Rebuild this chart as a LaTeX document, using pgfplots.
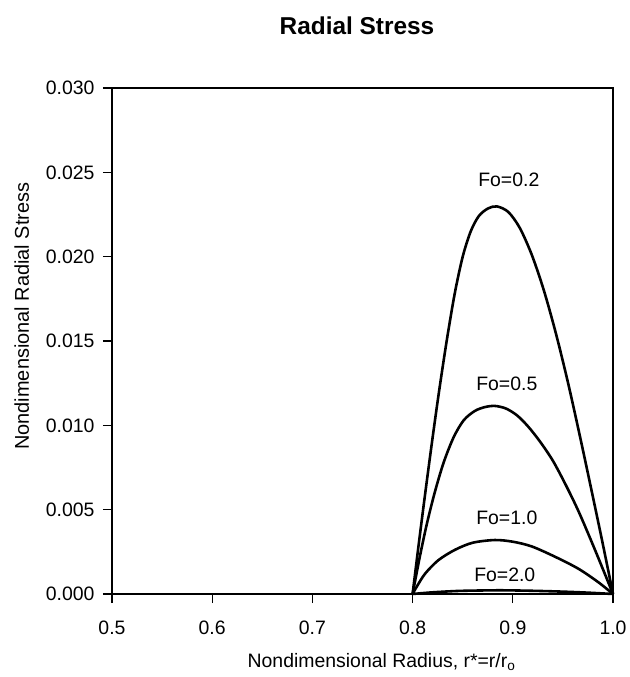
\documentclass[border=0pt]{standalone}
\usepackage{pgfplots}
\pgfplotsset{compat=1.18}
\usepackage{fontspec}
\setmainfont{Liberation Sans}
\begin{document}
\begin{tikzpicture}[x=1bp,y=1bp]
\useasboundingbox (-112,-83) rectangle (518,594);
\begin{axis}[
  at={(0,0)}, anchor=south west,
  scale only axis, width=501bp, height=506bp,
  xmin=0.5, xmax=1.0, ymin=0, ymax=0.03,
  scaled y ticks=false, scaled x ticks=false,
  xtick={0.5,0.6,0.7,0.8,0.9,1.0},
  xticklabels={0.5,0.6,0.7,0.8,0.9,1.0},
  ytick={0,0.005,0.01,0.015,0.02,0.025,0.03},
  yticklabels={0.000,0.005,0.010,0.015,0.020,0.025,0.030},
  tick align=outside, tick pos=left,
  major tick length=9bp,
  tick style={black, line width=1.3pt},
  axis line style={line width=1.6pt},
  /pgf/number format/assume math mode=true,
  ticklabel style={font=\fontsize{19.5}{22}\selectfont},
  yticklabel style={xshift=-5bp},
  xticklabel style={yshift=-14bp},
  xlabel={Nondimensional Radius, r*=r/r\textsubscript{o}},
  ylabel={Nondimensional Radial Stress},
  xlabel style={font=\fontsize{19.5}{22}\selectfont, at={(axis description cs:0.538,-0.134)}, anchor=center},
  ylabel style={font=\fontsize{20}{22}\selectfont, at={(axis description cs:-0.18,0.549)}, anchor=center},
  clip=false,
]
\addplot[black, line width=2.6pt, smooth, tension=0.5] coordinates {
(0.800,0) (0.806,0.00290) (0.812,0.00570) (0.819,0.00885) (0.826,0.01185)
(0.834,0.01500) (0.842,0.01780) (0.850,0.02000) (0.858,0.02150) (0.866,0.02240)
(0.875,0.02285) (0.884,0.02298) (0.8955,0.02265) (0.907,0.02170) (0.919,0.02010)
(0.931,0.01800) (0.943,0.01545) (0.955,0.01255) (0.967,0.00935) (0.978,0.00630)
(0.989,0.00320) (1.000,0)};
\addplot[black, line width=2.6pt, smooth, tension=0.5] coordinates {
(0.800,0) (0.807,0.00215) (0.814,0.00410) (0.822,0.00600) (0.831,0.00780)
(0.841,0.00930) (0.851,0.01030) (0.862,0.01085) (0.872,0.01108) (0.882,0.01115)
(0.893,0.01100) (0.904,0.01060) (0.915,0.00995) (0.927,0.00905) (0.940,0.00790)
(0.953,0.00645) (0.966,0.00485) (0.982,0.00262) (1.000,0)};
\addplot[black, line width=2.6pt, smooth, tension=0.5] coordinates {
(0.800,0) (0.8041,0.00043) (0.8124,0.00120) (0.8256,0.00200) (0.8423,0.00262)
(0.8600,0.00304) (0.8820,0.00320) (0.9000,0.00310) (0.9189,0.00282)
(0.9421,0.00221) (0.9654,0.00150) (0.9853,0.00070) (1.000,0)};
\addplot[black, line width=2.6pt, smooth, tension=0.5] coordinates {
(0.800,0) (0.820,0.00010) (0.845,0.00018) (0.870,0.00021) (0.890,0.00022)
(0.920,0.00019) (0.950,0.00014) (0.975,0.00008) (1.000,0)};
\node[font=\fontsize{19.5}{22}\selectfont] at (axis cs:0.896,0.02455) {Fo=0.2};
\node[font=\fontsize{19.5}{22}\selectfont] at (axis cs:0.894,0.01249) {Fo=0.5};
\node[font=\fontsize{19.5}{22}\selectfont] at (axis cs:0.894,0.00449) {Fo=1.0};
\node[font=\fontsize{19.5}{22}\selectfont] at (axis cs:0.892,0.00113) {Fo=2.0};
\end{axis}
\node[font=\bfseries\fontsize{24.5}{28}\selectfont] at (245,568) {Radial Stress};
\end{tikzpicture}
\end{document}
